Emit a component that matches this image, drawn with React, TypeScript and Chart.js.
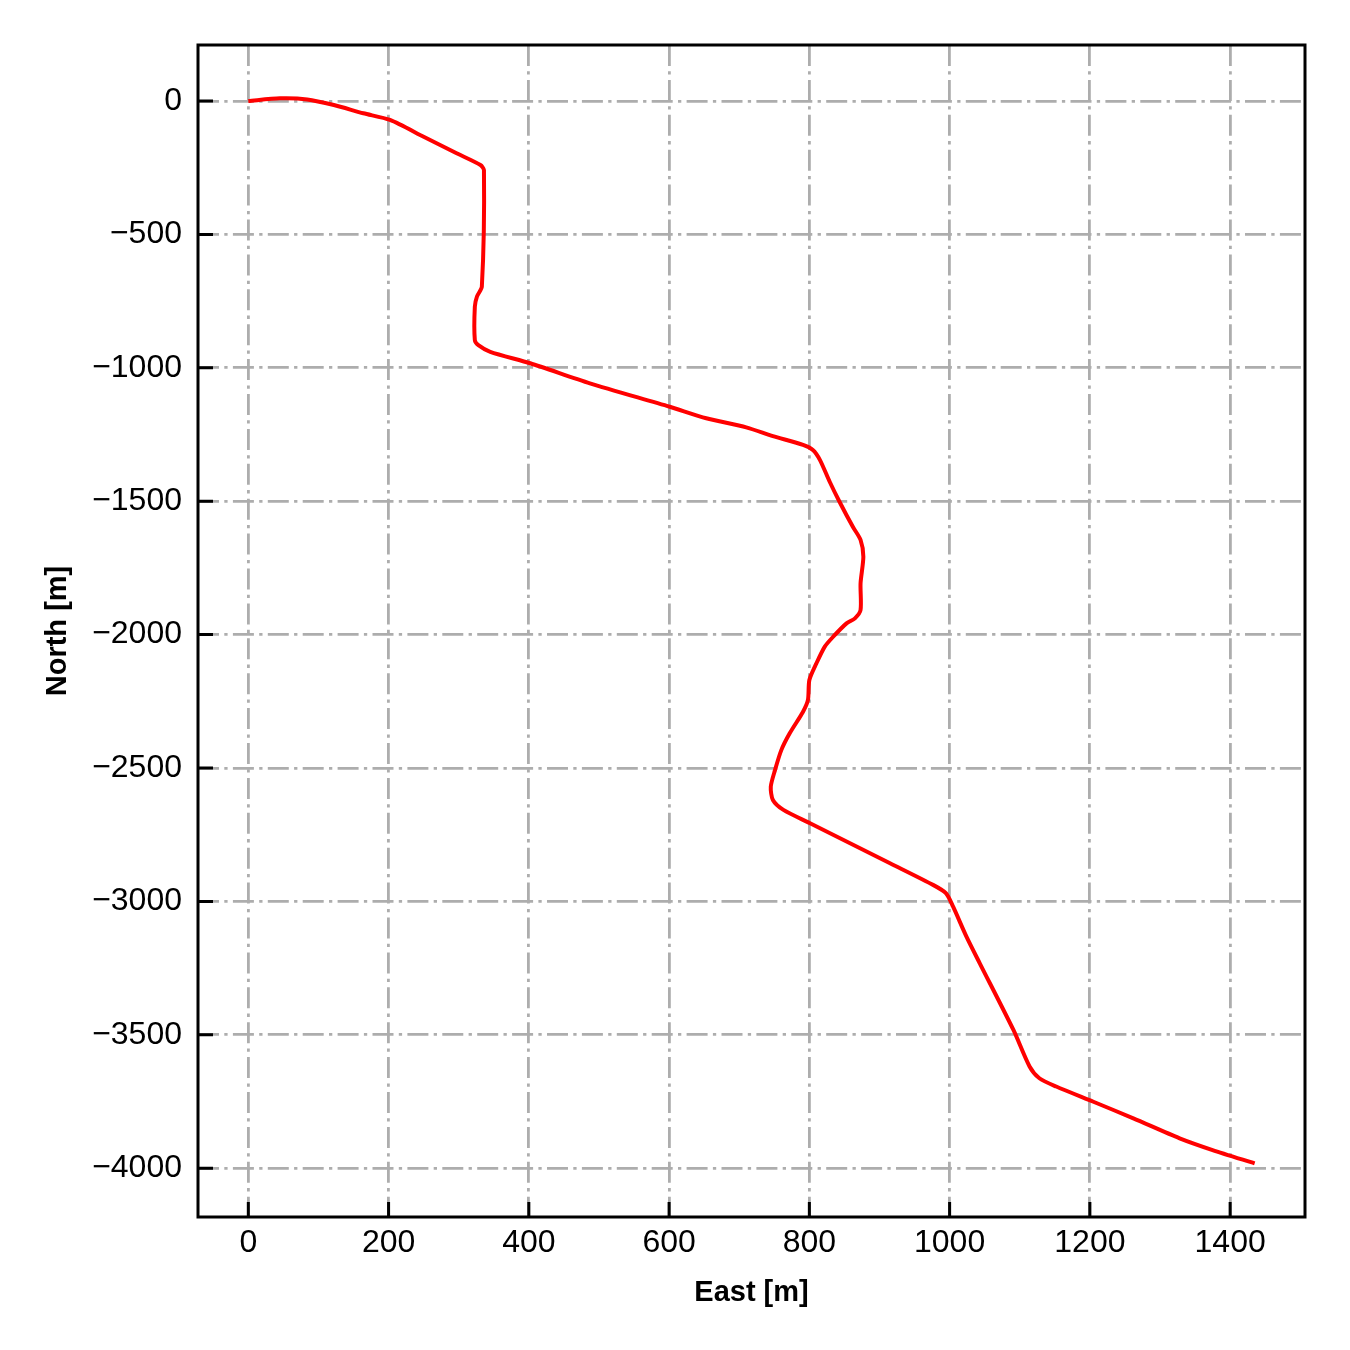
import React, { useEffect, useRef } from 'react';
import { Chart, registerables } from 'chart.js';

Chart.register(...registerables);

// Well trajectory (plan view): East [m] vs North [m]
const EAST = [
  0, 45, 84, 122, 164, 202, 250, 297, 331, 336,
  333, 326, 323, 323, 328, 345, 402, 487, 601, 653,
  710, 748, 791, 805, 815, 829, 843, 862, 873, 877,
  873, 873, 865, 853, 834, 822, 810, 800, 798, 791,
  772, 760, 751, 745, 748, 763, 801, 858, 915, 977,
  995, 1005, 1024, 1043, 1091, 1114, 1128, 1152, 1205, 1262,
  1328, 1375, 1435,
];
const NORTH = [
  0, 10, 6, -15, -46, -71, -134, -196, -240, -259,
  -696, -733, -771, -896, -915, -940, -983, -1058, -1146, -1189,
  -1223, -1256, -1289, -1308, -1345, -1427, -1502, -1596, -1645, -1708,
  -1808, -1908, -1939, -1958, -2008, -2045, -2108, -2170, -2245, -2289,
  -2370, -2433, -2508, -2570, -2620, -2657, -2707, -2782, -2857, -2939,
  -2970, -3020, -3132, -3232, -3482, -3619, -3663, -3694, -3751, -3813,
  -3888, -3932, -3982,
];
const X_TICKS = [0, 200, 400, 600, 800, 1000, 1200, 1400];
const Y_TICKS = [0, -500, -1000, -1500, -2000, -2500, -3000, -3500, -4000];
const X_RANGE = [-71.75, 1506.75];
const Y_RANGE = [-4183, 210];
const X_LABEL = 'East [m]';
const Y_LABEL = 'North [m]';

const FONT = "'Liberation Sans', Arial, Helvetica, sans-serif";
const fmt = (v: number) => (v < 0 ? '\u2212' + Math.abs(v) : String(v));

const framePlugin = {
  id: 'frame',
  afterDraw(chart: any) {
    const { ctx, chartArea: a, scales } = chart;
    ctx.save();
    ctx.setLineDash([]);
    ctx.strokeStyle = '#000';
    ctx.lineWidth = 3;
    ctx.strokeRect(a.left, a.top, a.right - a.left, a.bottom - a.top);
    ctx.beginPath();
    scales.x.ticks.forEach((t: any) => {
      const px = scales.x.getPixelForValue(t.value);
      ctx.moveTo(px, a.bottom);
      ctx.lineTo(px, a.bottom - 15);
    });
    scales.y.ticks.forEach((t: any) => {
      const py = scales.y.getPixelForValue(t.value);
      ctx.moveTo(a.left, py);
      ctx.lineTo(a.left + 15, py);
    });
    ctx.stroke();
    ctx.restore();
  },
};

export default function App() {
  const ref = useRef<HTMLCanvasElement | null>(null);
  useEffect(() => {
    if (!ref.current) return;
    const gridOpts = { color: '#adadad', lineWidth: 2.8, drawTicks: false };
    const borderOpts = { display: false, dash: [21, 5.3, 3.3, 5.3] };
    const tickFont = { family: FONT, size: 32 };
    const titleFont = { family: FONT, size: 29, weight: 'bold' as const };
    const chart = new Chart(ref.current, {
      type: 'scatter',
      data: {
        datasets: [
          {
            data: EAST.map((e, i) => ({ x: e, y: NORTH[i] })),
            showLine: true,
            borderColor: '#ff0000',
            backgroundColor: '#ff0000',
            borderWidth: 4,
            borderJoinStyle: 'round',
            pointRadius: 0,
            tension: 0.25,
          },
        ],
      },
      options: {
        animation: false,
        responsive: false,
        layout: { padding: { top: 45, right: 45, left: 0, bottom: 0 } },
        plugins: { legend: { display: false }, tooltip: { enabled: false } },
        scales: {
          x: {
            type: 'linear',
            min: X_RANGE[0],
            max: X_RANGE[1],
            afterBuildTicks: (s: any) => {
              s.ticks = X_TICKS.map((v) => ({ value: v }));
            },
            afterFit: (s: any) => {
              s.height = 133;
            },
            ticks: {
              callback: (v: any) => fmt(Number(v)),
              font: tickFont,
              color: '#000',
              padding: 7,
              maxRotation: 0,
              autoSkip: false,
            },
            grid: gridOpts,
            border: borderOpts,
            title: {
              display: true,
              text: X_LABEL,
              font: titleFont,
              color: '#000',
              padding: { top: 0, bottom: 40 },
            },
          },
          y: {
            type: 'linear',
            min: Y_RANGE[0],
            max: Y_RANGE[1],
            afterBuildTicks: (s: any) => {
              s.ticks = Y_TICKS.map((v) => ({ value: v }));
            },
            afterFit: (s: any) => {
              s.width = 198;
            },
            ticks: {
              callback: (v: any) => fmt(Number(v)),
              font: tickFont,
              color: '#000',
              padding: 16,
              autoSkip: false,
            },
            grid: gridOpts,
            border: borderOpts,
            title: {
              display: true,
              text: Y_LABEL,
              font: titleFont,
              color: '#000',
              padding: { top: 41, bottom: 0 },
            },
          },
        },
      },
      plugins: [framePlugin],
    });
    return () => chart.destroy();
  }, []);
  return (
    <div style={{ position: 'absolute', left: 0, top: 0, width: 1350, height: 1350, background: '#fff' }}>
      <canvas ref={ref} width={1350} height={1350} />
    </div>
  );
}
